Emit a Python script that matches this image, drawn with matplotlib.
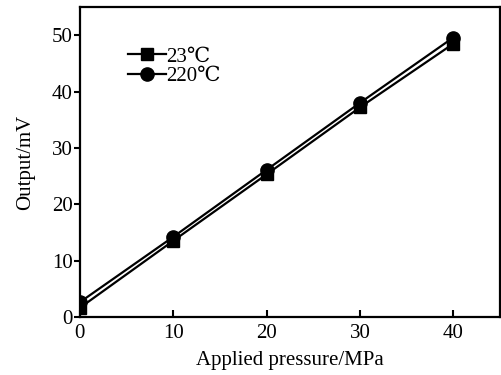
import matplotlib
matplotlib.use("Agg")
import matplotlib.pyplot as plt

pressure = [0, 10, 20, 30, 40]
output_23 = [1.6, 13.5, 25.3, 37.2, 48.5]
output_220 = [2.6, 14.2, 26.1, 38.0, 49.6]
x_ticks = [0, 10, 20, 30, 40]
y_ticks = [0, 10, 20, 30, 40, 50]

plt.rcParams["font.family"] = ["Liberation Serif", "DejaVu Serif"]
plt.rcParams["font.size"] = 15


def main() -> None:
    fig = plt.figure(figsize=(5.02, 3.75), dpi=100)
    ax = fig.add_axes([0.159, 0.155, 0.837, 0.826])

    ax.plot(pressure, output_23, color="black", lw=1.6, marker="s", ms=8.5, label="23℃")
    ax.plot(pressure, output_220, color="black", lw=1.6, marker="o", ms=9.5, label="220℃")

    ax.set_xlim(0, 45)
    ax.set_ylim(0, 55)
    ax.set_xticks(x_ticks)
    ax.set_yticks(y_ticks)
    ax.tick_params(axis="x", direction="in", length=5, width=1.5, pad=5)
    ax.tick_params(axis="y", direction="out", length=4, width=1.5, pad=1)
    for sp in ax.spines.values():
        sp.set_linewidth(1.6)

    ax.set_xlabel("Applied pressure/MPa", labelpad=6)
    ax.set_ylabel("Output/mV", labelpad=12)

    ax.legend(loc="upper left", bbox_to_anchor=(0.09, 0.905), frameon=False,
              handlelength=1.8, handletextpad=0.05, labelspacing=0.0, borderpad=0)

    fig.savefig("out.png", dpi=100)


if __name__ == "__main__":
    main()
